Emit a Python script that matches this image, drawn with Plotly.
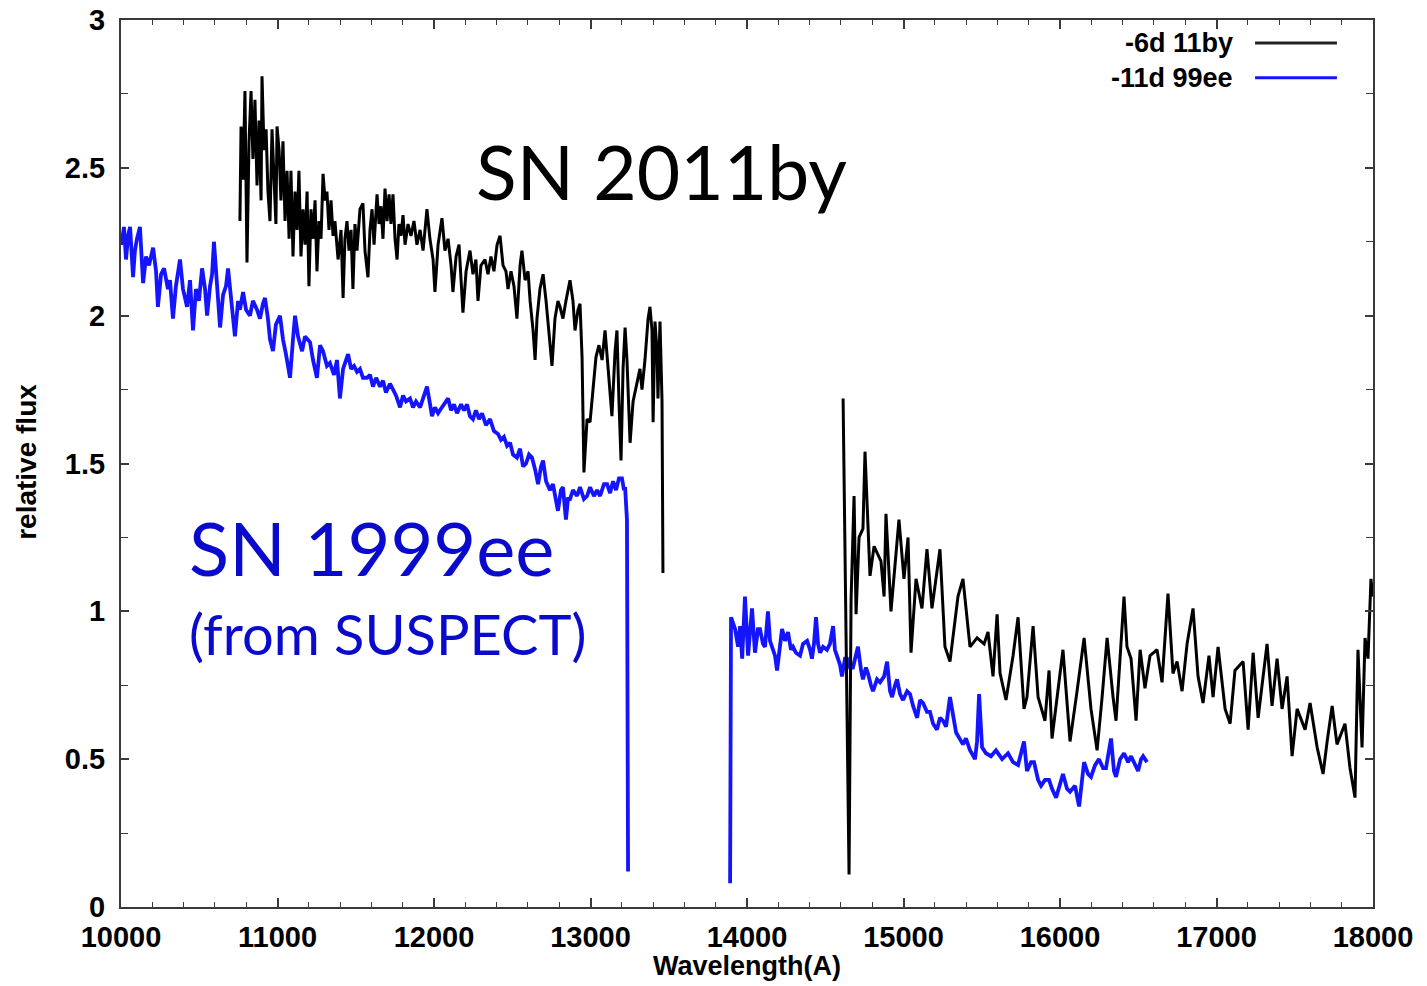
import plotly.graph_objects as go

# ---------------- data ----------------
# SN 2011by, -6d, first piece
by_wave_a = [10760, 10767, 10780, 10792, 10805, 10818, 10831, 10843, 10856, 10869,
             10882, 10895, 10901, 10914, 10927, 10939, 10952, 10965, 10978, 10990,
             10997, 11010, 11022, 11035, 11048, 11061, 11074, 11086, 11099, 11112,
             11125, 11137, 11150, 11163, 11176, 11189, 11201, 11214, 11227, 11240,
             11252, 11265, 11278, 11291, 11304, 11316, 11329, 11342, 11355, 11367,
             11387, 11406, 11419, 11431, 11444, 11457, 11470, 11482, 11495, 11508,
             11527, 11546, 11559, 11578, 11591, 11604, 11617, 11636, 11649, 11661,
             11674, 11687, 11700, 11713, 11725, 11738, 11751, 11764, 11776, 11789,
             11802, 11815, 11834, 11853, 11872, 11891, 11911, 11930, 11955, 11974,
             11994, 12006, 12026, 12051, 12070, 12090, 12109, 12121, 12141, 12160,
             12173, 12185, 12205, 12230, 12249, 12268, 12281, 12300, 12326, 12345,
             12364, 12383, 12403, 12422, 12441, 12460, 12473, 12492, 12511, 12530,
             12550, 12562, 12582, 12601, 12614, 12633, 12646, 12658, 12677, 12697,
             12716, 12735, 12754, 12773, 12792, 12805, 12824, 12843, 12869, 12888,
             12901, 12920, 12933, 12946, 12958, 12978, 12997, 13016, 13035, 13054,
             13074, 13093, 13112, 13137, 13157, 13169, 13182, 13195, 13208, 13221,
             13233, 13253, 13272, 13297, 13316, 13329, 13348, 13368, 13380, 13393,
             13400, 13412, 13425, 13431, 13444, 13457, 13463]
by_flux_a = [2.32, 2.64, 2.46, 2.76, 2.18, 2.59, 2.76, 2.53, 2.73, 2.44,
             2.66, 2.39, 2.81, 2.56, 2.63, 2.42, 2.32, 2.63, 2.46, 2.31,
             2.64, 2.56, 2.39, 2.59, 2.32, 2.49, 2.26, 2.49, 2.20, 2.42,
             2.29, 2.49, 2.20, 2.36, 2.24, 2.42, 2.10, 2.36, 2.26, 2.39,
             2.15, 2.32, 2.26, 2.48, 2.39, 2.42, 2.29, 2.39, 2.27, 2.32,
             2.19, 2.29, 2.06, 2.26, 2.32, 2.22, 2.29, 2.09, 2.31, 2.22,
             2.36, 2.38, 2.22, 2.13, 2.29, 2.36, 2.24, 2.41, 2.31, 2.37,
             2.26, 2.43, 2.32, 2.41, 2.31, 2.41, 2.26, 2.19, 2.31, 2.27,
             2.34, 2.24, 2.31, 2.27, 2.32, 2.24, 2.29, 2.22, 2.36, 2.26,
             2.19, 2.08, 2.24, 2.33, 2.22, 2.26, 2.17, 2.08, 2.20, 2.24,
             2.12, 2.01, 2.15, 2.22, 2.14, 2.19, 2.05, 2.17, 2.19, 2.14,
             2.20, 2.15, 2.24, 2.27, 2.17, 2.15, 2.09, 2.15, 2.10, 1.99,
             2.17, 2.22, 2.12, 2.15, 2.05, 1.95, 1.85, 1.99, 2.09, 2.14,
             2.05, 1.95, 1.83, 1.99, 2.05, 2.03, 1.99, 2.05, 2.12, 2.05,
             1.95, 2.02, 2.04, 1.86, 1.47, 1.65, 1.64, 1.75, 1.86, 1.90,
             1.85, 1.95, 1.82, 1.66, 1.88, 1.95, 1.71, 1.51, 1.82, 1.96,
             1.85, 1.57, 1.71, 1.77, 1.82, 1.75, 1.85, 1.99, 2.03, 1.95,
             1.64, 1.98, 1.88, 1.72, 1.98, 1.71, 1.13]

# SN 2011by, -6d, second piece
by_wave_b = [14614, 14626, 14639, 14652, 14665, 14684, 14697, 14716, 14741, 14754,
             14786, 14812, 14856, 14876, 14888, 14920, 14971, 15003, 15029, 15048,
             15080, 15118, 15150, 15182, 15233, 15265, 15297, 15348, 15380, 15425,
             15470, 15515, 15540, 15572, 15598, 15617, 15655, 15700, 15732, 15770,
             15789, 15828, 15860, 15904, 15930, 15949, 16019, 16064, 16109, 16154,
             16198, 16237, 16269, 16301, 16339, 16358, 16409, 16428, 16454, 16486,
             16512, 16543, 16575, 16620, 16652, 16690, 16722, 16748, 16780, 16812,
             16850, 16882, 16914, 16952, 16978, 17010, 17055, 17087, 17118, 17170,
             17202, 17234, 17266, 17323, 17355, 17387, 17419, 17451, 17483, 17515,
             17566, 17598, 17643, 17681, 17707, 17739, 17770, 17821, 17853, 17885,
             17904, 17930, 17949, 17968, 17987, 17998]
by_flux_b = [1.72, 1.15, 0.70, 0.11, 1.04, 1.39, 0.99, 1.25, 1.28, 1.54,
             1.12, 1.22, 1.17, 1.05, 1.33, 1.00, 1.31, 1.11, 1.25, 0.86,
             1.11, 1.01, 1.21, 1.01, 1.21, 0.88, 0.83, 1.05, 1.11, 0.88,
             0.91, 0.89, 0.93, 0.78, 0.99, 0.79, 0.70, 0.85, 0.98, 0.67,
             0.71, 0.95, 0.71, 0.63, 0.80, 0.57, 0.87, 0.56, 0.73, 0.91,
             0.67, 0.53, 0.71, 0.91, 0.71, 0.63, 1.05, 0.88, 0.84, 0.63,
             0.87, 0.74, 0.85, 0.87, 0.76, 1.06, 0.79, 0.83, 0.73, 0.89,
             1.01, 0.78, 0.69, 0.85, 0.71, 0.88, 0.67, 0.62, 0.80, 0.83,
             0.60, 0.86, 0.64, 0.89, 0.68, 0.84, 0.67, 0.78, 0.51, 0.67,
             0.60, 0.69, 0.54, 0.45, 0.56, 0.68, 0.55, 0.62, 0.47, 0.37,
             0.87, 0.54, 0.91, 0.84, 1.11, 1.05]

# SN 1999ee, -11d, first piece
ee_wave_a = [10000, 10006, 10019, 10032, 10045, 10058, 10077, 10089, 10102, 10121,
             10141, 10160, 10179, 10205, 10224, 10236, 10256, 10275, 10300, 10313,
             10332, 10351, 10377, 10396, 10422, 10441, 10460, 10479, 10498, 10518,
             10537, 10550, 10569, 10582, 10594, 10613, 10633, 10652, 10671, 10684,
             10703, 10728, 10748, 10760, 10780, 10799, 10824, 10843, 10869, 10888,
             10907, 10920, 10939, 10952, 10971, 10990, 11016, 11035, 11054, 11080,
             11099, 11112, 11131, 11157, 11176, 11208, 11227, 11252, 11272, 11291,
             11316, 11335, 11361, 11380, 11399, 11419, 11438, 11451, 11470, 11489,
             11508, 11527, 11546, 11572, 11591, 11610, 11630, 11655, 11674, 11693,
             11719, 11738, 11757, 11783, 11802, 11821, 11847, 11866, 11885, 11911,
             11936, 11955, 11975, 11987, 12006, 12026, 12038, 12064, 12090, 12109,
             12128, 12147, 12173, 12192, 12211, 12230, 12249, 12268, 12288, 12307,
             12332, 12358, 12383, 12409, 12428, 12447, 12467, 12486, 12505, 12530,
             12550, 12569, 12588, 12607, 12626, 12646, 12665, 12684, 12697, 12716,
             12741, 12760, 12780, 12792, 12811, 12824, 12843, 12856, 12869, 12888,
             12914, 12933, 12958, 12978, 12997, 13022, 13042, 13061, 13086, 13106,
             13125, 13144, 13163, 13182, 13201, 13214, 13221, 13233, 13240]
ee_flux_a = [2.24, 2.25, 2.30, 2.19, 2.27, 2.30, 2.13, 2.22, 2.26, 2.30,
             2.11, 2.20, 2.17, 2.23, 2.15, 2.03, 2.14, 2.16, 2.09, 2.12,
             1.99, 2.10, 2.19, 2.09, 2.03, 2.12, 1.95, 2.09, 2.05, 2.16,
             2.09, 2.00, 2.10, 2.14, 2.25, 2.09, 1.96, 2.07, 2.10, 2.16,
             2.05, 1.93, 2.05, 2.02, 2.08, 2.02, 2.00, 2.05, 2.02, 1.99,
             2.04, 2.06, 1.99, 1.92, 1.88, 1.97, 2.00, 1.92, 1.87, 1.79,
             1.92, 2.00, 1.93, 1.88, 1.93, 1.91, 1.85, 1.79, 1.90, 1.88,
             1.83, 1.84, 1.80, 1.85, 1.72, 1.82, 1.85, 1.87, 1.82, 1.83,
             1.81, 1.82, 1.79, 1.79, 1.80, 1.76, 1.79, 1.76, 1.78, 1.74,
             1.77, 1.75, 1.73, 1.69, 1.73, 1.71, 1.72, 1.69, 1.71, 1.69,
             1.73, 1.76, 1.70, 1.66, 1.69, 1.67, 1.68, 1.70, 1.72, 1.68,
             1.70, 1.67, 1.70, 1.68, 1.70, 1.66, 1.65, 1.68, 1.65, 1.67,
             1.63, 1.65, 1.61, 1.60, 1.58, 1.59, 1.56, 1.57, 1.53, 1.52,
             1.55, 1.49, 1.50, 1.53, 1.52, 1.48, 1.43, 1.49, 1.51, 1.44,
             1.41, 1.43, 1.38, 1.34, 1.41, 1.42, 1.31, 1.38, 1.38, 1.41,
             1.39, 1.42, 1.38, 1.39, 1.42, 1.39, 1.41, 1.39, 1.43, 1.43,
             1.40, 1.44, 1.41, 1.45, 1.45, 1.41, 1.42, 1.31, 0.12]

# SN 1999ee, -11d, second piece
ee_wave_b = [13892, 13898, 13911, 13924, 13943, 13956, 13969, 13987, 14007, 14019,
             14032, 14051, 14070, 14083, 14102, 14115, 14134, 14147, 14160, 14179,
             14192, 14211, 14224, 14243, 14262, 14281, 14294, 14313, 14339, 14358,
             14384, 14403, 14415, 14428, 14441, 14454, 14467, 14486, 14511, 14530,
             14550, 14562, 14575, 14594, 14607, 14626, 14639, 14658, 14677, 14697,
             14709, 14729, 14741, 14760, 14773, 14792, 14805, 14831, 14850, 14876,
             14895, 14914, 14927, 14946, 14959, 14978, 14997, 15023, 15042, 15061,
             15087, 15106, 15125, 15150, 15169, 15189, 15214, 15233, 15252, 15272,
             15297, 15336, 15380, 15399, 15425, 15457, 15470, 15483, 15495, 15502,
             15527, 15559, 15591, 15630, 15668, 15700, 15732, 15770, 15789, 15815,
             15834, 15860, 15879, 15904, 15930, 15949, 15975, 16000, 16019, 16045,
             16064, 16096, 16122, 16141, 16154, 16179, 16198, 16224, 16249, 16275,
             16294, 16326, 16345, 16358, 16384, 16409, 16435, 16454, 16479, 16499,
             16518, 16531, 16556]
ee_flux_b = [0.08, 0.98, 0.96, 0.94, 0.88, 0.95, 0.84, 1.05, 0.85, 0.94,
             1.01, 0.86, 0.94, 0.94, 0.89, 0.88, 1.00, 0.90, 0.88, 0.85,
             0.80, 0.89, 0.94, 0.90, 0.93, 0.87, 0.88, 0.86, 0.85, 0.89,
             0.90, 0.87, 0.84, 0.89, 0.98, 0.89, 0.86, 0.88, 0.87, 0.89,
             0.95, 0.87, 0.85, 0.82, 0.78, 0.84, 0.84, 0.81, 0.81, 0.85,
             0.88, 0.80, 0.77, 0.81, 0.79, 0.75, 0.73, 0.77, 0.76, 0.78,
             0.83, 0.73, 0.71, 0.75, 0.77, 0.72, 0.70, 0.73, 0.72, 0.68,
             0.64, 0.70, 0.69, 0.66, 0.66, 0.62, 0.60, 0.64, 0.63, 0.61,
             0.71, 0.59, 0.55, 0.57, 0.53, 0.50, 0.56, 0.72, 0.56, 0.54,
             0.52, 0.51, 0.53, 0.50, 0.52, 0.49, 0.48, 0.56, 0.46, 0.49,
             0.49, 0.43, 0.41, 0.43, 0.43, 0.40, 0.37, 0.41, 0.45, 0.40,
             0.39, 0.41, 0.34, 0.43, 0.49, 0.45, 0.44, 0.48, 0.50, 0.47,
             0.47, 0.57, 0.46, 0.44, 0.50, 0.52, 0.49, 0.51, 0.48, 0.46,
             0.50, 0.51, 0.49]

series_names = ["-6d 11by", "-11d 99ee"]
series_colors = ["#000000", "#1414ff"]
x_ticks = [10000, 11000, 12000, 13000, 14000, 15000, 16000, 17000, 18000]
y_ticks = [0, 0.5, 1, 1.5, 2, 2.5, 3]

# ---------------- figure ----------------
by_wave = by_wave_a + [None] + by_wave_b
by_flux = by_flux_a + [None] + by_flux_b
ee_wave = ee_wave_a + [None] + ee_wave_b
ee_flux = ee_flux_a + [None] + ee_flux_b

fig = go.Figure()
fig.add_trace(go.Scatter(x=ee_wave, y=ee_flux, mode="lines", name=series_names[1],
                         line=dict(color=series_colors[1], width=3.8), connectgaps=False))
fig.add_trace(go.Scatter(x=by_wave, y=by_flux, mode="lines", name=series_names[0],
                         line=dict(color=series_colors[0], width=3.0), connectgaps=False))

axis_font = dict(family="Liberation Sans, Arial, sans-serif", size=29, color="#000", weight=700)
title_font = dict(family="Liberation Sans, Arial, sans-serif", size=27, color="#000", weight=700)
legend_font = dict(family="Liberation Sans, Arial, sans-serif", size=27, color="#000", weight=700)
frame = "#3a3a3a"

fig.update_xaxes(range=[10000, 18000], tickvals=x_ticks, ticktext=[str(v) for v in x_ticks],
                 ticks="inside", ticklen=9, tickwidth=1.5, tickcolor=frame,
                 minor=dict(dtick=200, ticks="inside", ticklen=5, tickwidth=1.2, tickcolor=frame),
                 showline=True, linewidth=2.2, linecolor=frame, mirror="ticks",
                 showgrid=False, zeroline=False, tickfont=axis_font,
                 automargin=False, ticklabelstandoff=3)
fig.update_yaxes(range=[0, 3], tickvals=y_ticks, ticktext=["0", "0.5", "1", "1.5", "2", "2.5", "3"],
                 ticks="inside", ticklen=8, tickwidth=1.5, tickcolor=frame,
                 minor=dict(dtick=0.25, ticks="inside", ticklen=7, tickwidth=1.2, tickcolor=frame),
                 showline=True, linewidth=2.2, linecolor=frame, mirror="ticks",
                 showgrid=False, zeroline=False, tickfont=axis_font,
                 automargin=False, ticklabelstandoff=8)

annotations = [
    dict(text="Wavelength(A)", xref="paper", yref="paper", x=0.5, y=-0.0665,
         xanchor="center", yanchor="middle", showarrow=False, font=title_font),
    dict(text="relative flux", xref="paper", yref="paper", x=-0.075, y=0.502,
         xanchor="center", yanchor="middle", textangle=-90, showarrow=False,
         font=dict(family="Liberation Sans, Arial, sans-serif", size=28, color="#000", weight=700)),
    dict(text="SN 2011by", xref="x", yref="y", x=12256, y=2.49,
         xanchor="left", yanchor="middle", showarrow=False,
         font=dict(family="Lato, Open Sans, sans-serif", size=75, color="#000")),
    dict(text="SN 1999ee", xref="x", yref="y", x=10422, y=1.215,
         xanchor="left", yanchor="middle", showarrow=False,
         font=dict(family="Lato, Open Sans, sans-serif", size=74, color="#0a0acc")),
    dict(text="(from SUSPECT)", xref="x", yref="y", x=10422, y=0.925,
         xanchor="left", yanchor="middle", showarrow=False,
         font=dict(family="Lato, Open Sans, sans-serif", size=56, color="#0a0acc")),
]
legend_y = [0.974, 0.935]
for name, col, ly in zip(series_names, ["#222222", series_colors[1]], legend_y):
    annotations.append(dict(text=name, xref="paper", yref="paper", x=0.8898, y=ly,
                            xanchor="right", yanchor="middle", showarrow=False, font=legend_font))
    fig.add_shape(type="line", xref="paper", yref="paper", x0=0.9058, x1=0.9712, y0=ly, y1=ly,
                  line=dict(color=col, width=3))

fig.update_layout(width=1427, height=986, margin=dict(l=121, r=54, t=20, b=79, autoexpand=False),
                  plot_bgcolor="white", paper_bgcolor="white", showlegend=False,
                  annotations=annotations)

fig.write_html("out.html")
